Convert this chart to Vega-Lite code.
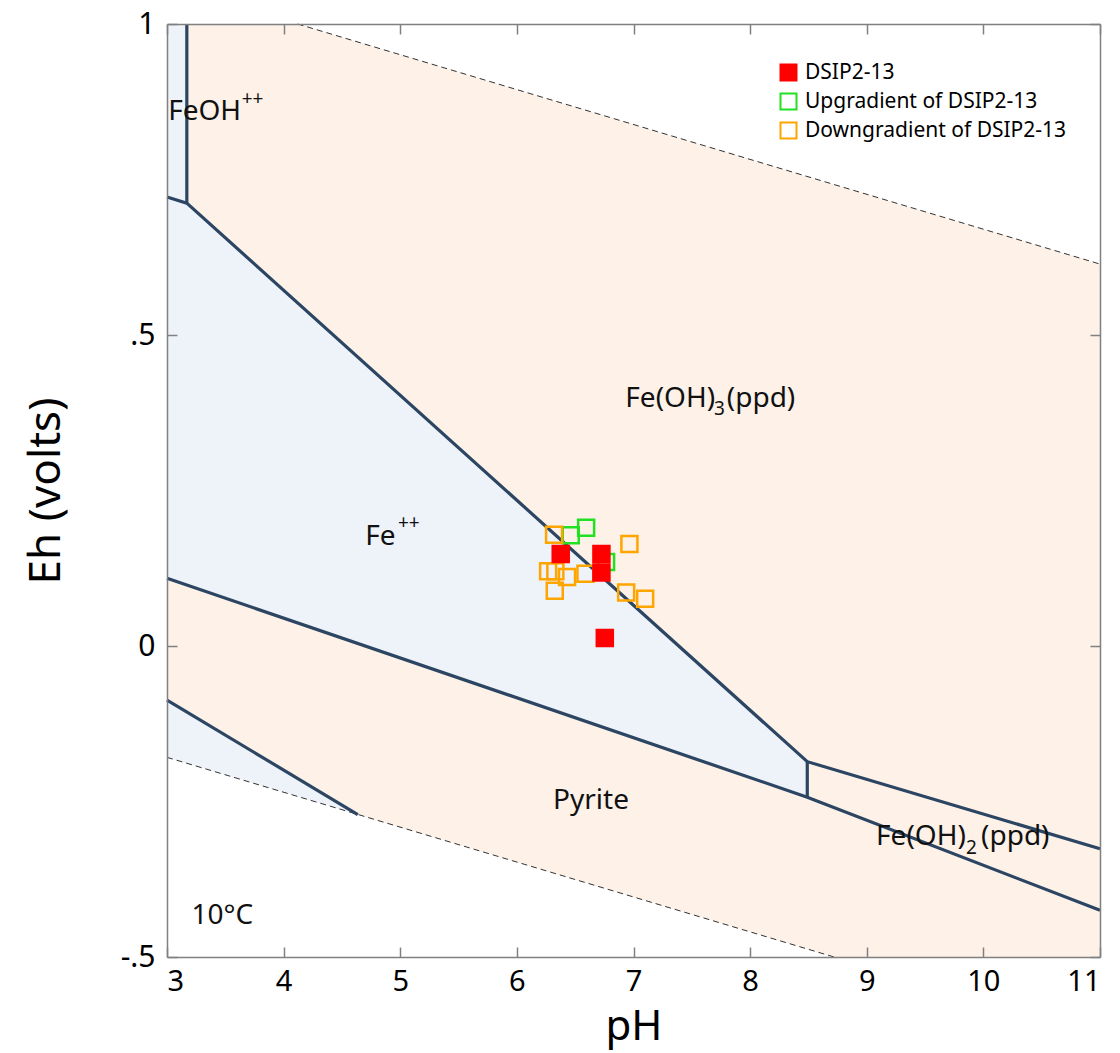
{
  "$schema": "https://vega.github.io/schema/vega-lite/v6.json",
  "width": 933,
  "height": 933,
  "autosize": {"type": "none"},
  "padding": {"left": 167, "top": 24, "right": 20, "bottom": 96},
  "background": "white",
  "config": {"view": {"stroke": null}, "font": "Noto Sans"},
  "datasets": {
    "regions": [
      {"id": "FeOH++", "kind": "blue", "i": 1, "pH": 3, "Eh": 1},
      {"id": "FeOH++", "kind": "blue", "i": 2, "pH": 3.17, "Eh": 1},
      {"id": "FeOH++", "kind": "blue", "i": 3, "pH": 3.17, "Eh": 0.712},
      {"id": "FeOH++", "kind": "blue", "i": 4, "pH": 3, "Eh": 0.722},
      {"id": "Fe(OH)3", "kind": "peach", "i": 1, "pH": 3.17, "Eh": 1},
      {"id": "Fe(OH)3", "kind": "peach", "i": 2, "pH": 4.12, "Eh": 1},
      {"id": "Fe(OH)3", "kind": "peach", "i": 3, "pH": 11, "Eh": 0.614},
      {"id": "Fe(OH)3", "kind": "peach", "i": 4, "pH": 11, "Eh": -0.326},
      {"id": "Fe(OH)3", "kind": "peach", "i": 5, "pH": 8.49, "Eh": -0.186},
      {"id": "Fe(OH)3", "kind": "peach", "i": 6, "pH": 3.17, "Eh": 0.712},
      {"id": "Fe++", "kind": "blue", "i": 1, "pH": 3, "Eh": 0.722},
      {"id": "Fe++", "kind": "blue", "i": 2, "pH": 3.17, "Eh": 0.712},
      {"id": "Fe++", "kind": "blue", "i": 3, "pH": 8.49, "Eh": -0.186},
      {"id": "Fe++", "kind": "blue", "i": 4, "pH": 8.49, "Eh": -0.243},
      {"id": "Fe++", "kind": "blue", "i": 5, "pH": 3, "Eh": 0.109},
      {"id": "Pyrite", "kind": "peach", "i": 1, "pH": 3, "Eh": 0.109},
      {"id": "Pyrite", "kind": "peach", "i": 2, "pH": 8.49, "Eh": -0.243},
      {"id": "Pyrite", "kind": "peach", "i": 3, "pH": 11, "Eh": -0.425},
      {"id": "Pyrite", "kind": "peach", "i": 4, "pH": 11, "Eh": -0.5},
      {"id": "Pyrite", "kind": "peach", "i": 5, "pH": 8.72, "Eh": -0.5},
      {"id": "Pyrite", "kind": "peach", "i": 6, "pH": 4.636, "Eh": -0.271},
      {"id": "Pyrite", "kind": "peach", "i": 7, "pH": 3, "Eh": -0.087},
      {"id": "Fe(OH)2", "kind": "peach", "i": 1, "pH": 8.49, "Eh": -0.186},
      {"id": "Fe(OH)2", "kind": "peach", "i": 2, "pH": 11, "Eh": -0.326},
      {"id": "Fe(OH)2", "kind": "peach", "i": 3, "pH": 11, "Eh": -0.425},
      {"id": "Fe(OH)2", "kind": "peach", "i": 4, "pH": 8.49, "Eh": -0.243},
      {"id": "Fe++ low", "kind": "blue", "i": 1, "pH": 3, "Eh": -0.087},
      {"id": "Fe++ low", "kind": "blue", "i": 2, "pH": 4.636, "Eh": -0.271},
      {"id": "Fe++ low", "kind": "blue", "i": 3, "pH": 3, "Eh": -0.179}
    ],
    "water": [
      {"id": "O2", "i": 1, "pH": 4.12, "Eh": 1},
      {"id": "O2", "i": 2, "pH": 11, "Eh": 0.614},
      {"id": "H2", "i": 1, "pH": 3, "Eh": -0.179},
      {"id": "H2", "i": 2, "pH": 8.72, "Eh": -0.5}
    ],
    "bounds": [
      {"id": "a", "i": 1, "pH": 3.17, "Eh": 1},
      {"id": "a", "i": 2, "pH": 3.17, "Eh": 0.712},
      {"id": "b", "i": 1, "pH": 3, "Eh": 0.722},
      {"id": "b", "i": 2, "pH": 3.17, "Eh": 0.712},
      {"id": "b", "i": 3, "pH": 8.49, "Eh": -0.186},
      {"id": "b", "i": 4, "pH": 11, "Eh": -0.326},
      {"id": "c", "i": 1, "pH": 8.49, "Eh": -0.186},
      {"id": "c", "i": 2, "pH": 8.49, "Eh": -0.243},
      {"id": "d", "i": 1, "pH": 3, "Eh": 0.109},
      {"id": "d", "i": 2, "pH": 8.49, "Eh": -0.243},
      {"id": "d", "i": 3, "pH": 11, "Eh": -0.425},
      {"id": "e", "i": 1, "pH": 3, "Eh": -0.087},
      {"id": "e", "i": 2, "pH": 4.636, "Eh": -0.271}
    ],
    "samples": [
      {"group": "Upgradient of DSIP2-13", "pH": 6.462, "Eh": 0.178},
      {"group": "Upgradient of DSIP2-13", "pH": 6.594, "Eh": 0.19},
      {"group": "Upgradient of DSIP2-13", "pH": 6.765, "Eh": 0.135},
      {"group": "Downgradient of DSIP2-13", "pH": 6.319, "Eh": 0.179},
      {"group": "Downgradient of DSIP2-13", "pH": 6.965, "Eh": 0.164},
      {"group": "Downgradient of DSIP2-13", "pH": 6.268, "Eh": 0.12},
      {"group": "Downgradient of DSIP2-13", "pH": 6.33, "Eh": 0.12},
      {"group": "Downgradient of DSIP2-13", "pH": 6.43, "Eh": 0.111},
      {"group": "Downgradient of DSIP2-13", "pH": 6.588, "Eh": 0.116},
      {"group": "Downgradient of DSIP2-13", "pH": 6.325, "Eh": 0.089},
      {"group": "Downgradient of DSIP2-13", "pH": 6.937, "Eh": 0.086},
      {"group": "Downgradient of DSIP2-13", "pH": 7.1, "Eh": 0.076},
      {"group": "DSIP2-13", "pH": 6.376, "Eh": 0.148},
      {"group": "DSIP2-13", "pH": 6.725, "Eh": 0.148},
      {"group": "DSIP2-13", "pH": 6.725, "Eh": 0.118},
      {"group": "DSIP2-13", "pH": 6.754, "Eh": 0.013}
    ],
    "labels": [
      {"text": "FeOH", "pH": 3.01, "Eh": 0.859},
      {"text": "Fe(OH)", "pH": 6.93, "Eh": 0.397},
      {"text": "(ppd)", "pH": 7.8, "Eh": 0.397},
      {"text": "Fe", "pH": 4.7, "Eh": 0.175},
      {"text": "Pyrite", "pH": 6.31, "Eh": -0.249},
      {"text": "Fe(OH)", "pH": 9.08, "Eh": -0.307},
      {"text": "(ppd)", "pH": 9.98, "Eh": -0.307},
      {"text": "10°C", "pH": 3.21, "Eh": -0.434}
    ],
    "smalllabels": [
      {"text": "++", "pH": 3.64, "Eh": 0.879},
      {"text": "3", "pH": 7.69, "Eh": 0.381},
      {"text": "++", "pH": 4.98, "Eh": 0.198},
      {"text": "2", "pH": 9.85, "Eh": -0.325}
    ]
  },
  "resolve": {"axis": {"x": "independent", "y": "independent"}},
  "layer": [
    {
      "data": {"name": "regions"},
      "transform": [{"filter": "datum.kind == 'peach'"}],
      "mark": {"type": "line", "fill": "#fdf1e8", "stroke": "transparent", "strokeWidth": 0},
      "encoding": {
        "x": {"field": "pH", "type": "quantitative", "scale": {"domain": [3, 11], "nice": false, "zero": false},
          "axis": {"orient": "bottom", "values": [3, 4, 5, 6, 7, 8, 9, 10, 11], "title": "pH", "grid": false,
            "tickSize": -10, "tickColor": "#808080", "tickWidth": 1.5, "domainColor": "#808080", "domainWidth": 1.5,
            "labelFontSize": 29, "labelColor": "#000", "labelPadding": 20, "labelFont": "Noto Sans",
            "titleFontSize": 42, "titleFontWeight": "normal", "titleColor": "#000", "titleBaseline": "middle", "titleY": 69, "titleFont": "Noto Sans", "zindex": 1}},
        "y": {"field": "Eh", "type": "quantitative", "scale": {"domain": [-0.5, 1], "nice": false, "zero": false},
          "axis": {"orient": "left", "values": [-0.5, 0, 0.5, 1], "title": "Eh (volts)", "grid": false,
            "labelExpr": "datum.value == 1 ? '1' : datum.value == 0.5 ? '.5' : datum.value == 0 ? '0' : '-.5'",
            "tickSize": -10, "tickColor": "#808080", "tickWidth": 1.5, "domainColor": "#808080", "domainWidth": 1.5,
            "labelFontSize": 30, "labelColor": "#000", "labelPadding": 22, "labelFont": "Noto Sans",
            "titleFontSize": 44, "titleFontWeight": "normal", "titleColor": "#000", "titlePadding": 52, "titleFont": "Noto Sans", "zindex": 1}},
        "detail": {"field": "id"},
        "order": {"field": "i", "type": "quantitative"}
      }
    },
    {
      "data": {"name": "regions"},
      "transform": [{"filter": "datum.kind == 'blue'"}],
      "mark": {"type": "line", "fill": "#eef2f9", "stroke": "transparent", "strokeWidth": 0},
      "encoding": {
        "x": {"field": "pH", "type": "quantitative", "axis": null},
        "y": {"field": "Eh", "type": "quantitative", "axis": null},
        "detail": {"field": "id"},
        "order": {"field": "i", "type": "quantitative"}
      }
    },
    {
      "data": {"name": "water"},
      "mark": {"type": "line", "stroke": "#333333", "strokeWidth": 1, "strokeDash": [6, 4]},
      "encoding": {
        "x": {"field": "pH", "type": "quantitative",
          "axis": {"orient": "top", "values": [3, 4, 5, 6, 7, 8, 9, 10, 11], "labels": false, "title": null, "grid": false,
            "tickSize": -10, "tickColor": "#808080", "tickWidth": 1.5, "domainColor": "#808080", "domainWidth": 1.5, "zindex": 1}},
        "y": {"field": "Eh", "type": "quantitative",
          "axis": {"orient": "right", "values": [-0.5, 0, 0.5, 1], "labels": false, "title": null, "grid": false,
            "tickSize": -10, "tickColor": "#808080", "tickWidth": 1.5, "domainColor": "#808080", "domainWidth": 1.5, "zindex": 1}},
        "detail": {"field": "id"},
        "order": {"field": "i", "type": "quantitative"}
      }
    },
    {
      "data": {"name": "bounds"},
      "mark": {"type": "line", "stroke": "#2b4562", "strokeWidth": 3.2, "strokeJoin": "miter"},
      "encoding": {
        "x": {"field": "pH", "type": "quantitative", "axis": null},
        "y": {"field": "Eh", "type": "quantitative", "axis": null},
        "detail": {"field": "id"},
        "order": {"field": "i", "type": "quantitative"}
      }
    },
    {
      "data": {"name": "samples"},
      "mark": {"type": "point", "shape": "square", "size": 256, "strokeWidth": 2.5, "opacity": 1},
      "encoding": {
        "x": {"field": "pH", "type": "quantitative", "axis": null},
        "y": {"field": "Eh", "type": "quantitative", "axis": null},
        "stroke": {"field": "group", "type": "nominal",
          "scale": {"domain": ["DSIP2-13", "Upgradient of DSIP2-13", "Downgradient of DSIP2-13"], "range": ["#ff0000", "#22e022", "#ffa500"]},
          "legend": {"title": null, "orient": "none", "legendX": 611, "legendY": 38, "labelFontSize": 21, "labelFont": "Noto Sans", "labelColor": "#000", "labelLimit": 0,
            "symbolSize": 256, "symbolStrokeWidth": 2, "rowPadding": 4, "labelOffset": 6}},
        "fill": {"field": "group", "type": "nominal",
          "scale": {"domain": ["DSIP2-13", "Upgradient of DSIP2-13", "Downgradient of DSIP2-13"], "range": ["#ff0000", "transparent", "transparent"]},
          "legend": {"title": null, "orient": "none", "legendX": 611, "legendY": 38, "labelFontSize": 21, "labelFont": "Noto Sans", "labelColor": "#000", "labelLimit": 0,
            "symbolSize": 256, "symbolStrokeWidth": 2, "rowPadding": 4, "labelOffset": 6}},
        "order": {"value": 0}
      }
    },
    {
      "data": {"name": "labels"},
      "mark": {"type": "text", "align": "left", "baseline": "middle", "fontSize": 28, "font": "Noto Sans", "color": "#111"},
      "encoding": {
        "x": {"field": "pH", "type": "quantitative", "axis": null},
        "y": {"field": "Eh", "type": "quantitative", "axis": null},
        "text": {"field": "text"}
      }
    },
    {
      "data": {"name": "smalllabels"},
      "mark": {"type": "text", "align": "left", "baseline": "middle", "fontSize": 19, "font": "Noto Sans", "color": "#111"},
      "encoding": {
        "x": {"field": "pH", "type": "quantitative", "axis": null},
        "y": {"field": "Eh", "type": "quantitative", "axis": null},
        "text": {"field": "text"}
      }
    }
  ]
}
